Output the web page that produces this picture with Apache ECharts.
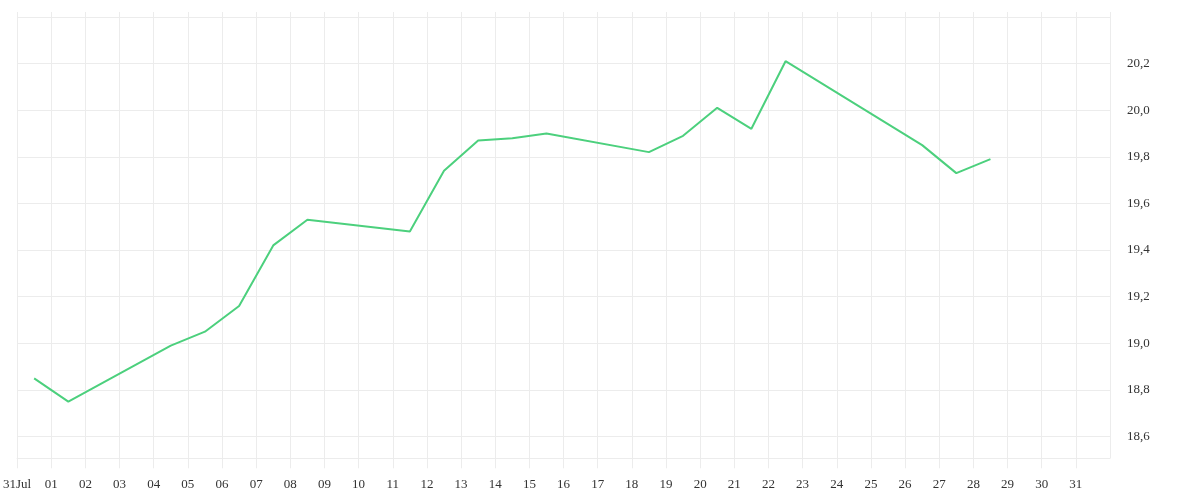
<!DOCTYPE html>
<html>
<head>
<meta charset="utf-8">
<script src="https://cdn.jsdelivr.net/npm/echarts@6/dist/echarts.min.js"></script>
<style>
html,body{margin:0;padding:0;background:#fff;}
#chart{width:1200px;height:500px;}
</style>
</head>
<body>
<div id="chart"></div>
<script>
// Trading days (each point sits at midday of its day)
var dates = ['2025-07-31','2025-08-01','2025-08-04','2025-08-05','2025-08-06','2025-08-07','2025-08-08',
  '2025-08-11','2025-08-12','2025-08-13','2025-08-14','2025-08-15','2025-08-18','2025-08-19',
  '2025-08-20','2025-08-21','2025-08-22','2025-08-26','2025-08-27','2025-08-28'];
var values = [18.85,18.75,18.99,19.05,19.16,19.42,19.53,19.48,19.74,19.87,19.88,19.90,19.82,19.89,
  20.01,19.92,20.21,19.85,19.73,19.79];

// Axis tick labels
var xTickLabels = ['31Jul','01','02','03','04','05','06','07','08','09','10','11','12','13','14','15',
  '16','17','18','19','20','21','22','23','24','25','26','27','28','29','30','31'];
var yTickValues = [18.6,18.8,19.0,19.2,19.4,19.6,19.8,20.0,20.2];
var yTickLabels = ['18,6','18,8','19,0','19,2','19,4','19,6','19,8','20,0','20,2'];

var DAY = 86400000;
function parseDay(s){ var p = s.split('-'); return new Date(+p[0], +p[1]-1, +p[2]).getTime(); }
var xStart = parseDay('2025-07-31');
var xEnd = parseDay('2025-09-01');

var seriesData = dates.map(function(d, i){ return [parseDay(d) + DAY/2, values[i]]; });

var chart = echarts.init(document.getElementById('chart'));
var font = 'Liberation Serif';
chart.setOption({
  animation: false,
  grid: {left: 15.3, right: 90, top: 12, bottom: 41.7, containLabel: false},
  xAxis: {
    type: 'time',
    min: xStart,
    max: xEnd,
    minInterval: DAY,
    maxInterval: DAY,
    axisLine: {show: true, lineStyle: {color: '#ececec', width: 1}},
    axisTick: {show: true, length: 10, lineStyle: {color: '#ececec'}},
    splitLine: {show: true, lineStyle: {color: '#ececec', width: 1}},
    axisLabel: {
      show: true,
      margin: 20,
      color: '#333',
      fontFamily: font,
      fontSize: 13,
      showMinLabel: true,
      showMaxLabel: false,
      hideOverlap: false,
      formatter: function(v){
        var idx = Math.round((v - xStart) / DAY);
        return (idx >= 0 && idx < xTickLabels.length) ? xTickLabels[idx] : '';
      }
    }
  },
  yAxis: {
    type: 'value',
    position: 'right',
    min: 18.507,
    max: 20.421,
    minInterval: 0.2,
    maxInterval: 0.2,
    scale: true,
    axisLine: {show: false},
    axisTick: {show: false},
    splitLine: {show: true, showMinLine: false, showMaxLine: false, lineStyle: {color: '#ececec', width: 1}},
    axisLabel: {
      margin: 17,
      padding: [4, 0, 0, 0],
      color: '#333',
      fontFamily: font,
      fontSize: 13,
      formatter: function(v){
        for (var i = 0; i < yTickValues.length; i++) {
          if (Math.abs(v - yTickValues[i]) < 1e-6) return yTickLabels[i];
        }
        return '';
      }
    }
  },
  series: [{
    type: 'line',
    data: seriesData,
    showSymbol: false,
    symbol: 'none',
    lineStyle: {color: '#4cd07d', width: 2},
    itemStyle: {color: '#4cd07d'}
  }]
});
</script>
</body>
</html>
